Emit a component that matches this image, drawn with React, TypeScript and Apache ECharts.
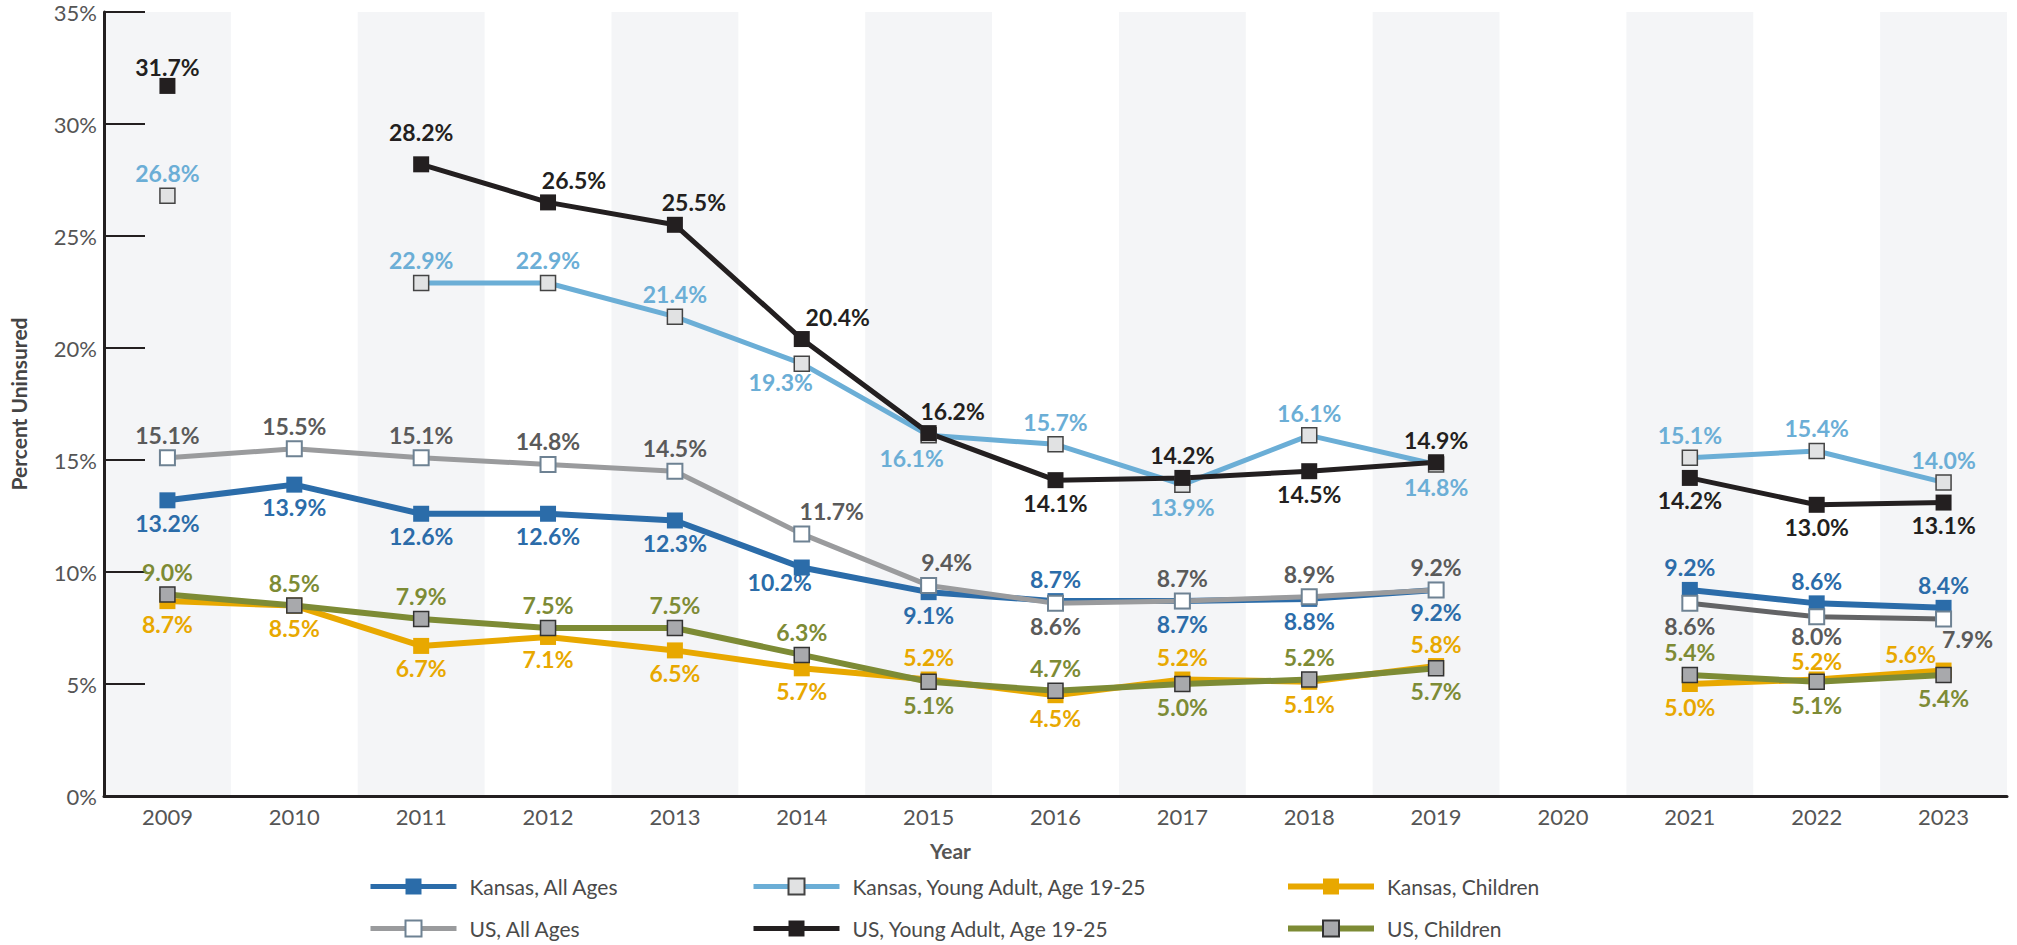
import React, { useEffect, useRef } from "react";
import * as echarts from "echarts";

const years = ["2009", "2010", "2011", "2012", "2013", "2014", "2015", "2016", "2017", "2018", "2019", "2020", "2021", "2022", "2023"];
const yTicks = [0, 5, 10, 15, 20, 25, 30, 35];

const kansasAll = [13.2, 13.9, 12.6, 12.6, 12.3, 10.2, 9.1, 8.7, 8.7, 8.8, 9.2, null, 9.2, 8.6, 8.4];
const kansasYoung = [26.8, null, 22.9, 22.9, 21.4, 19.3, 16.1, 15.7, 13.9, 16.1, 14.8, null, 15.1, 15.4, 14.0];
const kansasChildren = [8.7, 8.5, 6.7, 7.1, 6.5, 5.7, 5.2, 4.5, 5.2, 5.1, 5.8, null, 5.0, 5.2, 5.6];
const usAll = [15.1, 15.5, 15.1, 14.8, 14.5, 11.7, 9.4, 8.6, 8.7, 8.9, 9.2, null, 8.6, 8.0, 7.9];
const usYoung = [31.7, null, 28.2, 26.5, 25.5, 20.4, 16.2, 14.1, 14.2, 14.5, 14.9, null, 14.2, 13.0, 13.1];
const usChildren = [9.0, 8.5, 7.9, 7.5, 7.5, 6.3, 5.1, 4.7, 5.0, 5.2, 5.7, null, 5.4, 5.1, 5.4];

// the US All Ages line is drawn darker from this year on
const lateStartYear = "2021";

const seriesNames = [
  "Kansas, All Ages",
  "Kansas, Young Adult, Age 19-25",
  "Kansas, Children",
  "US, All Ages",
  "US, Young Adult, Age 19-25",
  "US, Children",
];

// label placement (style), T = top, B = bottom
const T = "top";
const B = "bottom";
const posKansasAll = [B, B, B, B, B, B, B, T, B, B, B, B, T, T, T];
const posKansasYoung = [T, T, T, T, T, B, B, T, B, T, B, B, T, T, T];
const posKansasChildren = [B, B, B, B, B, B, T, B, T, B, T, B, B, T, T];
const posUsAll = [T, T, T, T, T, T, T, B, T, T, T, T, B, B, B];
const posUsYoung = [T, T, T, T, T, T, T, B, T, B, T, T, B, B, B];
const posUsChildren = [T, T, T, T, T, T, B, T, B, T, B, T, T, B, B];

const offKansasAll: Record<number, number[]> = { 5: [-22, -8] };
const offKansasYoung: Record<number, number[]> = { 5: [-21, -4], 6: [-17, 0] };
const offKansasChildren: Record<number, number[]> = { 13: [0, 4], 14: [-33, 6] };
const offUsAll: Record<number, number[]> = { 5: [30, 0], 6: [18, 0], 13: [0, -4], 14: [24, -3] };
const offUsYoung: Record<number, number[]> = { 0: [0, 4], 2: [0, -10], 3: [26, 0], 4: [19, 0], 5: [36, 0], 6: [24, 0] };
const offUsChildren: Record<number, number[]> = {};

function buildData(values: (number | null)[], pos: string[], off: Record<number, number[]>, keep?: (i: number) => boolean) {
  return values.map((v, i) => ({
    value: keep && !keep(i) ? null : v,
    label: { position: pos[i], offset: off[i] || [0, 0] },
  }));
}

const FONT = "Lato";

function makeSeries(
  name: string,
  data: any[],
  lineColor: string,
  lineWidth: number,
  symbolFill: string,
  symbolBorder: string,
  symbolBorderWidth: number,
  symbolSize: number,
  labelColor: string
) {
  return {
    name,
    type: "line",
    data,
    connectNulls: false,
    symbol: "rect",
    symbolSize,
    showAllSymbol: true,
    lineStyle: { color: lineColor, width: lineWidth },
    itemStyle: { color: symbolFill, borderColor: symbolBorder, borderWidth: symbolBorderWidth },
    label: {
      show: true,
      formatter: (p: any) => Number(p.value).toFixed(1) + "%",
      color: labelColor,
      fontFamily: FONT,
      fontWeight: "bold",
      fontSize: 23,
      distance: 3,
    },
    emphasis: { disabled: true },
  };
}

export default function App() {
  const ref = useRef<HTMLDivElement>(null);
  useEffect(() => {
    if (!ref.current) return;
    const chart = echarts.init(ref.current, null, { renderer: "svg" });

    const legendPos = [
      { left: 363, top: 871 },
      { left: 746, top: 871 },
      { left: 1280, top: 871 },
      { left: 363, top: 913 },
      { left: 746, top: 913 },
      { left: 1280, top: 913 },
    ];
    const legendLineWidth = [5, 5, 6, 5, 5, 6];

    const lateIdx = years.indexOf(lateStartYear);

    const option: any = {
      animation: false,
      backgroundColor: "#ffffff",
      textStyle: { fontFamily: FONT },
      grid: { left: 97, right: 10, top: 12, bottom: 149, containLabel: false },
      legend: seriesNames.map((n, i) => ({
        data: [n],
        left: legendPos[i].left,
        top: legendPos[i].top,
        itemWidth: 86,
        itemHeight: 20,
        selectedMode: false,
        lineStyle: { width: legendLineWidth[i] },
        textStyle: { fontFamily: FONT, fontSize: 21, color: "#4a4a4a", padding: [0, 0, 0, 8] },
      })),
      graphic: [
        {
          type: "text",
          left: 930,
          top: 840,
          style: { text: "Year", fontFamily: FONT, fontWeight: "bold", fontSize: 21, fill: "#555555" },
        },
      ],
      xAxis: {
        type: "category",
        data: years,
        boundaryGap: true,
        axisLine: { lineStyle: { color: "#231f20", width: 3 } },
        axisTick: { inside: true, length: 22, lineStyle: { color: "#231f20", width: 2 } },
        axisLabel: { color: "#555555", fontFamily: FONT, fontSize: 22, margin: 9 },
        splitLine: { show: false },
        splitArea: { show: true, areaStyle: { color: ["#f4f5f7", "rgba(255,255,255,0)"] } },
      },
      yAxis: {
        type: "value",
        min: 0,
        max: 35,
        interval: 5,
        name: "Percent Uninsured",
        nameLocation: "middle",
        nameGap: 75,
        nameTextStyle: { fontFamily: FONT, fontWeight: "bold", fontSize: 21, color: "#444444" },
        axisLine: { show: true, lineStyle: { color: "#231f20", width: 3 } },
        axisTick: { show: true, inside: true, length: 41, lineStyle: { color: "#231f20", width: 2 } },
        axisLabel: {
          color: "#555555",
          fontFamily: FONT,
          fontSize: 22,
          margin: 7,
          formatter: (v: number) => (yTicks.indexOf(v) >= 0 ? v + "%" : ""),
        },
        splitLine: { show: false },
      },
      series: [
        makeSeries(seriesNames[0], buildData(kansasAll, posKansasAll, offKansasAll), "#2b6ca9", 6, "#2b6ca9", "#2b6ca9", 0, 16, "#2b6ca9"),
        makeSeries(seriesNames[1], buildData(kansasYoung, posKansasYoung, offKansasYoung), "#6baed6", 5, "#e1e2e3", "#444444", 1.5, 15, "#6baed6"),
        makeSeries(seriesNames[2], buildData(kansasChildren, posKansasChildren, offKansasChildren), "#e8a800", 6, "#e8a800", "#e8a800", 0, 16, "#e8a800"),
        makeSeries(seriesNames[3], buildData(usAll, posUsAll, offUsAll, (i) => i < lateIdx), "#9a9b9d", 5, "#ffffff", "#6e8293", 2, 15, "#5a5a5a"),
        makeSeries(seriesNames[3], buildData(usAll, posUsAll, offUsAll, (i) => i >= lateIdx), "#636466", 5, "#ffffff", "#6e8293", 2, 15, "#5a5a5a"),
        makeSeries(seriesNames[4], buildData(usYoung, posUsYoung, offUsYoung), "#231f20", 5, "#231f20", "#231f20", 0, 16, "#231f20"),
        makeSeries(seriesNames[5], buildData(usChildren, posUsChildren, offUsChildren), "#7d8b35", 6, "#a8a9ac", "#333333", 1.5, 15, "#7d8b35"),
      ],
    };
    chart.setOption(option);
    return () => chart.dispose();
  }, []);
  return (
    <div
      ref={ref}
      style={{ position: "fixed", left: 0, top: 0, width: 2017, height: 945 }}
    />
  );
}
